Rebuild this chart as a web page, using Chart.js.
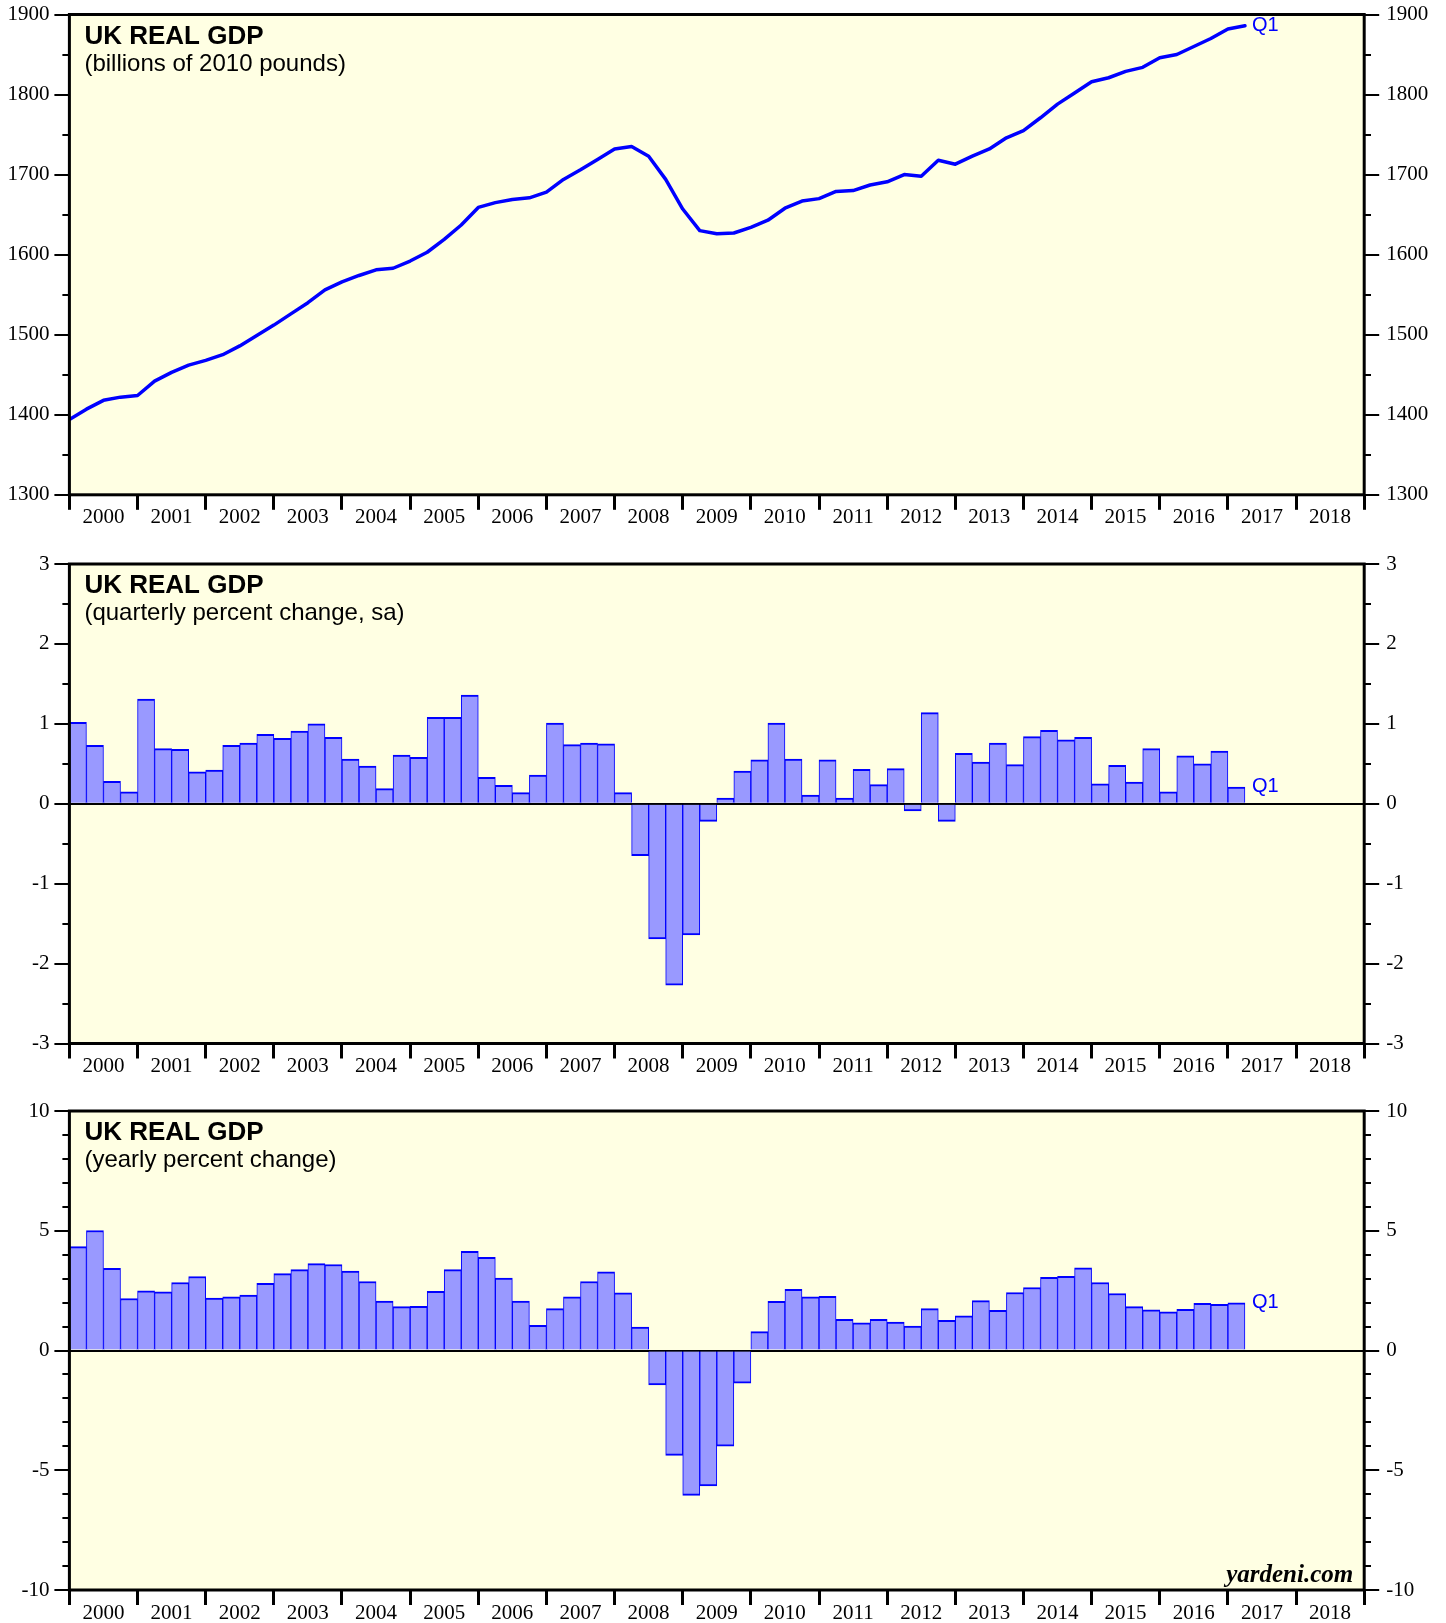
<!DOCTYPE html>
<html lang="en">
<head>
<meta charset="UTF-8">
<title>UK Real GDP</title>
<script src="https://cdn.jsdelivr.net/npm/chart.js@4.4.1/dist/chart.umd.min.js"></script>
<style>
  body { margin: 0; background: #fff; width: 1446px; height: 1623px; position: relative; overflow: hidden; }
  canvas { position: absolute; left: 0; }
</style>
</head>
<body>
<canvas id="c1" width="1446" height="540" style="top:0"></canvas>
<canvas id="c2" width="1446" height="545" style="top:540px"></canvas>
<canvas id="c3" width="1446" height="538" style="top:1085px"></canvas>
<script>
// quarterly data, first bar = 2000Q1, last = 2017Q1
const startYear = 2000;
const endYear = 2019;

// level, billions of 2010 pounds, 1999Q4 .. 2017Q1 (plotted at quarter end)
const gdpLevel = [1394, 1407, 1418, 1422, 1424, 1442, 1453, 1462, 1468, 1475, 1486, 1499, 1512, 1526,
  1540, 1556, 1566, 1574, 1581, 1583, 1592, 1603, 1619, 1637, 1659, 1665, 1669, 1671, 1678, 1694,
  1706, 1719, 1732, 1735, 1723, 1694, 1657, 1630, 1626, 1627, 1634, 1643, 1658, 1667, 1670, 1679,
  1680, 1687, 1691, 1700, 1698, 1718, 1713, 1723, 1732, 1746, 1755, 1771, 1788, 1802, 1816, 1821,
  1829, 1834, 1846, 1850, 1860, 1870, 1882, 1886];

// quarterly percent change, 2000Q1 .. 2017Q1
const gdpQoQ = [1.02, 0.73, 0.28, 0.15, 1.31, 0.69, 0.68, 0.40, 0.42, 0.73, 0.76, 0.87, 0.82, 0.91,
  1.00, 0.83, 0.56, 0.47, 0.19, 0.61, 0.58, 1.08, 1.08, 1.36, 0.33, 0.23, 0.14, 0.36, 1.01, 0.74,
  0.76, 0.75, 0.14, -0.65, -1.69, -2.27, -1.64, -0.22, 0.07, 0.41, 0.55, 1.01, 0.56, 0.11, 0.55,
  0.07, 0.43, 0.24, 0.44, -0.09, 1.14, -0.22, 0.63, 0.52, 0.76, 0.49, 0.84, 0.92, 0.80, 0.83,
  0.25, 0.48, 0.27, 0.69, 0.15, 0.60, 0.50, 0.66, 0.21];

// yearly percent change, 2000Q1 .. 2017Q1
const gdpYoY = [4.34, 5.01, 3.43, 2.17, 2.49, 2.45, 2.84, 3.09, 2.19, 2.24, 2.31, 2.80, 3.21, 3.38,
  3.63, 3.59, 3.32, 2.88, 2.06, 1.83, 1.84, 2.47, 3.38, 4.14, 3.89, 3.02, 2.06, 1.05, 1.75, 2.24,
  2.88, 3.28, 2.41, 0.98, -1.44, -4.38, -6.05, -5.65, -3.99, -1.36, 0.79, 2.05, 2.55, 2.24, 2.26,
  1.30, 1.16, 1.30, 1.19, 1.02, 1.75, 1.26, 1.45, 2.08, 1.68, 2.42, 2.63, 3.05, 3.10, 3.45,
  2.84, 2.38, 1.83, 1.70, 1.61, 1.72, 1.97, 1.93, 1.99];

const titles = ['UK REAL GDP', 'UK REAL GDP', 'UK REAL GDP'];
const subtitles = ['(billions of 2010 pounds)', '(quarterly percent change, sa)', '(yearly percent change)'];
const lastLabel = 'Q1';
const credit = 'yardeni.com';

const serif = '"Liberation Serif", "Times New Roman", serif';
const sans = '"Liberation Sans", Arial, Helvetica, sans-serif';
const BLUE = '#0000ff';
const lastX = startYear + gdpQoQ.length * 0.25; // end of last quarter

const panelDeco = {
  id: 'panelDeco',
  beforeDraw(chart) {
    const { ctx, chartArea: a } = chart;
    ctx.save();
    ctx.fillStyle = '#ffffe3';
    ctx.fillRect(a.left, a.top, a.right - a.left, a.bottom - a.top);
    ctx.restore();
  },
  afterDraw(chart, args, opts) {
    const { ctx, chartArea: a } = chart;
    ctx.save();
    ctx.strokeStyle = '#000';
    ctx.lineWidth = 3;
    ctx.strokeRect(a.left, a.top, a.right - a.left, a.bottom - a.top);

    ctx.fillStyle = '#000';
    ctx.textBaseline = 'alphabetic';
    ctx.textAlign = 'left';
    ctx.font = 'bold 26px ' + sans;
    ctx.fillText(opts.title, a.left + 15, a.top + 29);
    ctx.font = '24px ' + sans;
    ctx.fillText(opts.subtitle, a.left + 15, a.top + 56);

    // Q1 tag after last value
    const meta = chart.getDatasetMeta(0);
    const last = meta.data[meta.data.length - 1];
    ctx.fillStyle = BLUE;
    ctx.font = '20px ' + sans;
    ctx.textBaseline = 'middle';
    ctx.fillText(lastLabel, chart.scales.x.getPixelForValue(lastX) + 7, last.y);

    if (opts.credit) {
      ctx.fillStyle = '#000';
      ctx.font = 'bold italic 25px ' + serif;
      ctx.textAlign = 'right';
      ctx.textBaseline = 'alphabetic';
      ctx.fillText(opts.credit, a.right - 11, a.bottom - 8);
    }
    ctx.restore();
  }
};

function xScale(axisH, labelPad) {
  return {
    type: 'linear', position: 'bottom', min: startYear, max: endYear, offset: false,
    afterFit: s => { s.height = axisH; s.paddingLeft = 0; s.paddingRight = 0; },
    border: { display: false },
    grid: { drawOnChartArea: false, offset: false, tickLength: 15, tickWidth: 3, tickColor: '#000', color: '#000' },
    ticks: {
      stepSize: 1, autoSkip: false, maxTicksLimit: 100, maxRotation: 0, minRotation: 0,
      padding: labelPad, labelOffset: 34, color: '#000', font: { family: serif, size: 21 },
      callback: v => (v < endYear ? String(v) : '')
    }
  };
}

function yScale(pos, min, max, step, isMajor, zeroLine) {
  const left = pos === 'left';
  return {
    type: 'linear', position: pos, min: min, max: max,
    afterFit: s => { s.width = left ? 69.4 : 81.8; s.paddingTop = 0; s.paddingBottom = 0; },
    border: { display: false },
    grid: {
      drawOnChartArea: left && zeroLine,
      color: c => (c.tick && c.tick.value === 0 ? '#000' : 'rgba(0,0,0,0)'),
      lineWidth: 2,
      tickColor: '#000',
      tickWidth: 2,
      tickLength: 15,
      tickBorderDash: c => (c.tick && isMajor(c.tick.value)) ? [] : (left ? [0, 8, 7, 100] : [7, 100])
    },
    ticks: {
      stepSize: step, autoSkip: false, maxTicksLimit: 100, padding: left ? 5 : 7, color: '#000',
      font: { family: serif, size: 21 },
      callback: v => (isMajor(v) ? String(v) : '')
    }
  };
}

function baseOptions(topPad, axisH, labelPad, yMin, yMax, step, isMajor, zeroLine, deco) {
  return {
    responsive: false,
    animation: false,
    layout: { padding: { top: topPad, left: 0, right: 0, bottom: 0 } },
    plugins: { legend: { display: false }, tooltip: { enabled: false }, panelDeco: deco },
    scales: {
      x: xScale(axisH, labelPad),
      y: yScale('left', yMin, yMax, step, isMajor, zeroLine),
      y2: yScale('right', yMin, yMax, step, isMajor, false)
    }
  };
}

function barData(values) {
  return values.map((v, i) => ({ x: startYear + i * 0.25 + 0.125, y: v }));
}

const barStyle = {
  backgroundColor: '#9999ff',
  borderColor: BLUE,
  borderWidth: { top: 2, bottom: 2, left: 1, right: 1 },
  barPercentage: 1,
  categoryPercentage: 1
};

new Chart(document.getElementById('c1'), {
  type: 'line',
  data: {
    datasets: [{
      data: gdpLevel.map((v, i) => ({ x: startYear + i * 0.25, y: v })),
      borderColor: BLUE, borderWidth: 3.5, pointRadius: 0, tension: 0, fill: false,
      borderJoinStyle: 'round', borderCapStyle: 'round'
    }]
  },
  options: baseOptions(14.5, 45.2, -5, 1300, 1900, 50, v => v % 100 === 0, false,
    { title: titles[0], subtitle: subtitles[0] }),
  plugins: [panelDeco]
});

new Chart(document.getElementById('c2'), {
  type: 'bar',
  data: { datasets: [Object.assign({ data: barData(gdpQoQ) }, barStyle)] },
  options: baseOptions(24, 41.5, -5, -3, 3, 0.5, v => Math.abs(v - Math.round(v)) < 1e-9, true,
    { title: titles[1], subtitle: subtitles[1] }),
  plugins: [panelDeco]
});

new Chart(document.getElementById('c3'), {
  type: 'bar',
  data: { datasets: [Object.assign({ data: barData(gdpYoY) }, barStyle)] },
  options: baseOptions(26, 33, -4, -10, 10, 1, v => Math.round(v) % 5 === 0, true,
    { title: titles[2], subtitle: subtitles[2], credit: credit }),
  plugins: [panelDeco]
});
</script>
</body>
</html>
